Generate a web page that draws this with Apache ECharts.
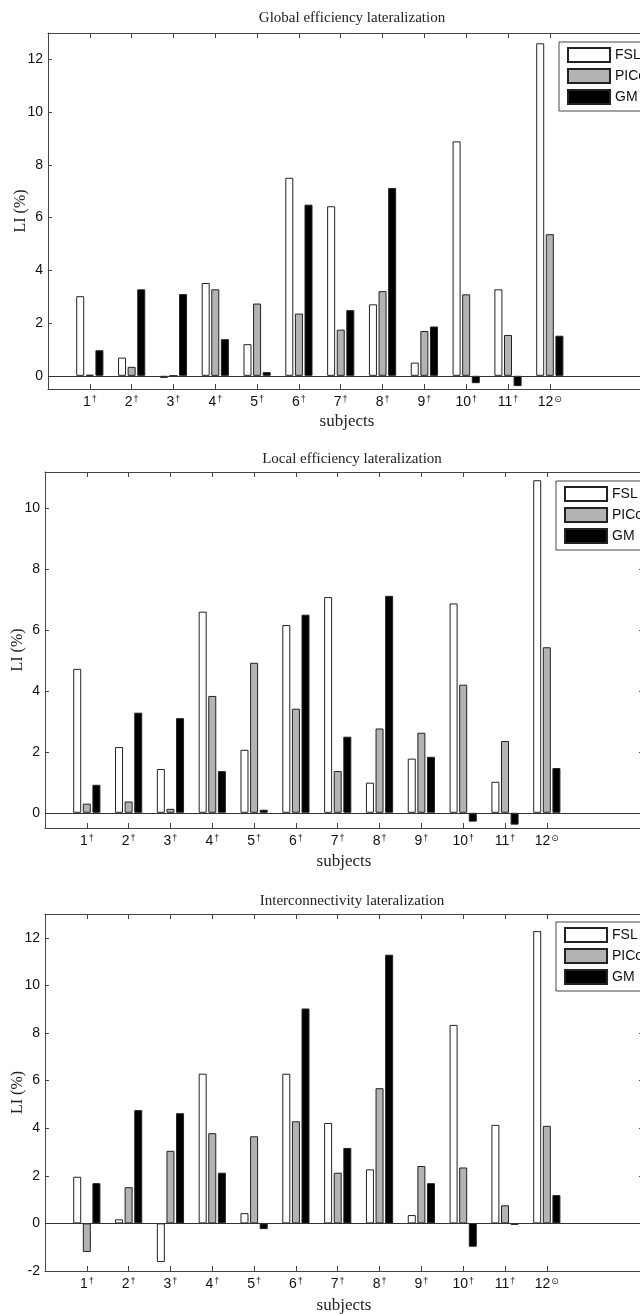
<!DOCTYPE html>
<html lang="en">
<head>
    <meta charset="UTF-8">
    <title>LI lateralization</title>
    <style>
        body{ margin: 0; background: #fff; }
        #main{ width: 640px; height: 1314px; }
    </style>
</head>
<body>
<div id="main"></div>
<script src="https://cdn.jsdelivr.net/npm/echarts@6/dist/echarts.min.js"></script>
<script>
    // subjects on x, superscript mark after each number
    const subjects = [1, 2, 3, 4, 5, 6, 7, 8, 9, 10, 11, 12];
    const subjectMarks = ['†', '†', '†', '†', '†', '†', '†', '†', '†', '†', '†', '⊙'];
    const methods = ['FSL', 'PICo', 'GM'];

    // Global efficiency LI (%)
    const globalFSL  = [3.02, 0.69, -0.08, 3.52, 1.20, 7.51, 6.43, 2.71, 0.50, 8.89, 3.28, 12.61];
    const globalPICo = [0.04, 0.34, 0, 3.28, 2.74, 2.36, 1.75, 3.21, 1.70, 3.09, 1.55, 5.37];
    const globalGM   = [0.97, 3.28, 3.10, 1.39, 0.14, 6.49, 2.49, 7.12, 1.87, -0.28, -0.39, 1.52];

    // Local efficiency LI (%)
    const localFSL  = [4.73, 2.16, 1.44, 6.61, 2.07, 6.17, 7.09, 0.99, 1.78, 6.88, 1.02, 10.93];
    const localPICo = [0.30, 0.37, 0.13, 3.84, 4.93, 3.42, 1.37, 2.77, 2.63, 4.21, 2.36, 5.44];
    const localGM   = [0.92, 3.29, 3.11, 1.37, 0.10, 6.51, 2.50, 7.13, 1.84, -0.29, -0.39, 1.47];

    // Interconnectivity LI (%)
    const interFSL  = [1.96, 0.17, -1.62, 6.29, 0.43, 6.29, 4.22, 2.27, 0.35, 8.34, 4.14, 12.28];
    const interPICo = [-1.20, 1.52, 3.05, 3.79, 3.66, 4.29, 2.13, 5.68, 2.41, 2.35, 0.76, 4.10];
    const interGM   = [1.69, 4.76, 4.63, 2.13, -0.24, 9.03, 3.17, 11.29, 1.69, -0.98, -0.06, 1.19];

    // y tick labels per panel
    const globalTicks = [0, 2, 4, 6, 8, 10, 12];
    const localTicks = [0, 2, 4, 6, 8, 10];
    const interTicks = [-2, 0, 2, 4, 6, 8, 10, 12];

    const sans = 'Liberation Sans, Arial, DejaVu Sans, sans-serif';
    const serif = 'Liberation Serif, Times New Roman, serif';
    const axisColor = '#444';
    const fills = ['#ffffff', '#b3b3b3', '#000000'];

    const panels = [
        {title: 'Global efficiency lateralization', values: [globalFSL, globalPICo, globalGM],
         ticks: globalTicks, yMin: -0.5, yMax: 13, left: 48, top: 33, height: 356,
         titleTop: 6, legendLeft: 559, legendTop: 42, xNameGap: 24},
        {title: 'Local efficiency lateralization', values: [localFSL, localPICo, localGM],
         ticks: localTicks, yMin: -0.5, yMax: 11.2, left: 45, top: 472, height: 356,
         titleTop: 447, legendLeft: 556, legendTop: 481, xNameGap: 25},
        {title: 'Interconnectivity lateralization', values: [interFSL, interPICo, interGM],
         ticks: interTicks, yMin: -2, yMax: 13, left: 45, top: 914, height: 357,
         titleTop: 889, legendLeft: 556, legendTop: 922, xNameGap: 26}
    ];

    const option = {
        animation: false,
        title: [], grid: [], xAxis: [], yAxis: [], legend: [], series: []
    };

    panels.forEach(function (p, i) {
        option.title.push({
            text: p.title, left: 347, top: p.titleTop, textAlign: 'center',
            textStyle: {fontFamily: serif, fontWeight: 'normal', fontSize: 15, color: '#222'}
        });
        // keep the box where it is, even if it runs past the right edge
        option.grid.push({
            left: p.left, top: p.top, width: 598, height: p.height,
            containLabel: false, outerBoundsMode: 'none'
        });

        // bottom axis with labels, top axis as the box edge
        option.xAxis.push({
            type: 'value', gridIndex: i, min: 0, max: 14.3, position: 'bottom',
            name: 'subjects', nameLocation: 'middle', nameGap: p.xNameGap, nameMoveOverlap: false,
            nameTextStyle: {fontFamily: serif, fontSize: 17, color: '#222'},
            axisLine: {onZero: false, lineStyle: {color: axisColor, width: 1}},
            axisTick: {inside: true, length: 5, customValues: subjects, lineStyle: {color: axisColor}},
            splitLine: {show: false},
            axisLabel: {
                customValues: subjects, margin: 6,
                formatter: function (v) {
                    return '{n|' + v + '}{s|' + subjectMarks[v - 1] + '}';
                },
                rich: {
                    n: {fontFamily: sans, fontSize: 14, color: '#111', verticalAlign: 'bottom'},
                    s: {fontFamily: sans, fontSize: 9, color: '#111', verticalAlign: 'top', padding: [0, 0, 0, 1]}
                }
            }
        });
        option.xAxis.push({
            type: 'value', gridIndex: i, min: 0, max: 14.3, position: 'top',
            axisLine: {onZero: false, lineStyle: {color: axisColor, width: 1}},
            axisTick: {inside: true, length: 5, customValues: subjects, lineStyle: {color: axisColor}},
            axisLabel: {show: false}, splitLine: {show: false}
        });

        option.yAxis.push({
            type: 'value', gridIndex: i, min: p.yMin, max: p.yMax, position: 'left',
            name: 'LI (%)', nameLocation: 'middle', nameGap: 19, nameMoveOverlap: false,
            nameTextStyle: {fontFamily: serif, fontSize: 16, color: '#222'},
            axisLine: {show: true, onZero: false, lineStyle: {color: axisColor, width: 1}},
            axisTick: {show: true, inside: true, length: 4, customValues: p.ticks, lineStyle: {color: axisColor}},
            axisLabel: {customValues: p.ticks, margin: 5, fontFamily: sans, fontSize: 14, color: '#111'},
            splitLine: {show: false}
        });
        option.yAxis.push({
            type: 'value', gridIndex: i, min: p.yMin, max: p.yMax, position: 'right',
            axisLine: {show: true, onZero: false, lineStyle: {color: axisColor, width: 1}},
            axisTick: {show: true, inside: true, length: 4, customValues: p.ticks, lineStyle: {color: axisColor}},
            axisLabel: {show: false}, splitLine: {show: false}
        });

        option.legend.push({
            data: methods, orient: 'vertical', left: p.legendLeft, top: p.legendTop,
            itemWidth: 42, itemHeight: 14, itemGap: 5, icon: 'rect',
            padding: [5, 40, 6, 8], borderColor: axisColor, borderWidth: 1, borderRadius: 0,
            backgroundColor: '#fff', selectedMode: false,
            textStyle: {fontFamily: sans, fontSize: 14, color: '#111'}
        });

        methods.forEach(function (m, k) {
            const s = {
                name: m, type: 'bar', xAxisIndex: 2 * i, yAxisIndex: 2 * i,
                barWidth: 8, barGap: '20%',
                itemStyle: {color: fills[k], borderColor: '#222', borderWidth: 1},
                data: subjects.map(function (x, j) { return [x, p.values[k][j]]; })
            };
            if (k === 2) {
                // bar baseline at zero
                s.markLine = {
                    silent: true, symbol: ['none', 'none'], label: {show: false},
                    lineStyle: {color: '#333', width: 1, type: 'solid'},
                    data: [{yAxis: 0}]
                };
            }
            option.series.push(s);
        });
    });

    const myChart = echarts.init(document.getElementById('main'));
    myChart.setOption(option);
</script>
</body>
</html>
